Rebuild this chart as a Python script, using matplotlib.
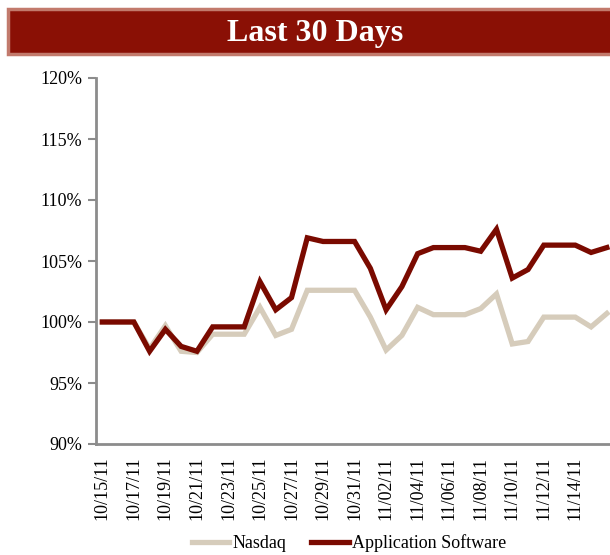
import matplotlib.pyplot as plt
import matplotlib.patches as patches
import pandas as pd

# daily values, 10/15/11 through 11/16/11 (index = 100%)
dates = pd.date_range('2011-10-15', '2011-11-16', freq='D')
nasdaq = [100.0, 100.0, 100.0, 97.8, 99.7, 97.6, 97.5, 99.0, 99.0, 99.0, 101.2,
          98.9, 99.4, 102.6, 102.6, 102.6, 102.6, 100.4, 97.7, 98.9, 101.2,
          100.6, 100.6, 100.6, 101.1, 102.3, 98.2, 98.4, 100.4, 100.4, 100.4,
          99.6, 100.7]
app_software = [100.0, 100.0, 100.0, 97.6, 99.4, 98.0, 97.6, 99.6, 99.6, 99.6,
                103.3, 101.0, 102.0, 106.9, 106.6, 106.6, 106.6, 104.4, 101.0,
                102.9, 105.6, 106.1, 106.1, 106.1, 105.8, 107.6, 103.6, 104.3,
                106.3, 106.3, 106.3, 105.7, 106.1]
y_ticks = [90, 95, 100, 105, 110, 115, 120]

plt.rcParams['font.family'] = ['Liberation Serif', 'DejaVu Serif']
plt.rcParams['font.size'] = 13

fig = plt.figure(figsize=(6.1, 5.55), dpi=100)

# title banner
banner = patches.Rectangle((8 / 610, 1 - 54 / 555), 1.0, 45 / 555,
                           transform=fig.transFigure, facecolor='#8a1005',
                           edgecolor='#c27a6c', linewidth=2.5, zorder=0)
fig.patches.append(banner)
fig.text(0.517, 1 - 33 / 555, 'Last 30 Days', color='white', fontsize=23,
         fontweight='bold', ha='center', va='center')

ax = fig.add_axes([96 / 610, 1 - 444 / 555, 1 - 96 / 610, 366 / 555])

x = list(range(len(dates)))
ax.plot(x, nasdaq, color='#d6ccbb', linewidth=3.8, label='Nasdaq',
        solid_joinstyle='miter')
ax.plot(x, app_software, color='#7a0a00', linewidth=3.8,
        label='Application Software', solid_joinstyle='miter')

ax.set_ylim(90, 120)
ax.set_yticks(y_ticks)
ax.set_yticklabels([f'{v}%' for v in y_ticks])
ax.set_xlim(-0.4, 32.2)
ax.set_xticks(x[::2][:16])
ax.set_xticklabels([d.strftime('%m/%d/%y') for d in dates[::2][:16]],
                   rotation=90)

for side in ['top', 'right']:
    ax.spines[side].set_visible(False)
for side in ['left', 'bottom']:
    ax.spines[side].set_color('#8c8c8c')
    ax.spines[side].set_linewidth(2)
ax.tick_params(axis='y', direction='out', length=6, width=1.5,
               color='#8c8c8c', pad=4)
ax.tick_params(axis='x', length=0, pad=9)

leg = ax.legend(loc='center', bbox_to_anchor=(0.492, -0.272), ncol=2,
                frameon=False, handlelength=2.1, handletextpad=0.15,
                columnspacing=1.4, borderpad=0)

fig.savefig('out.png', dpi=100)
